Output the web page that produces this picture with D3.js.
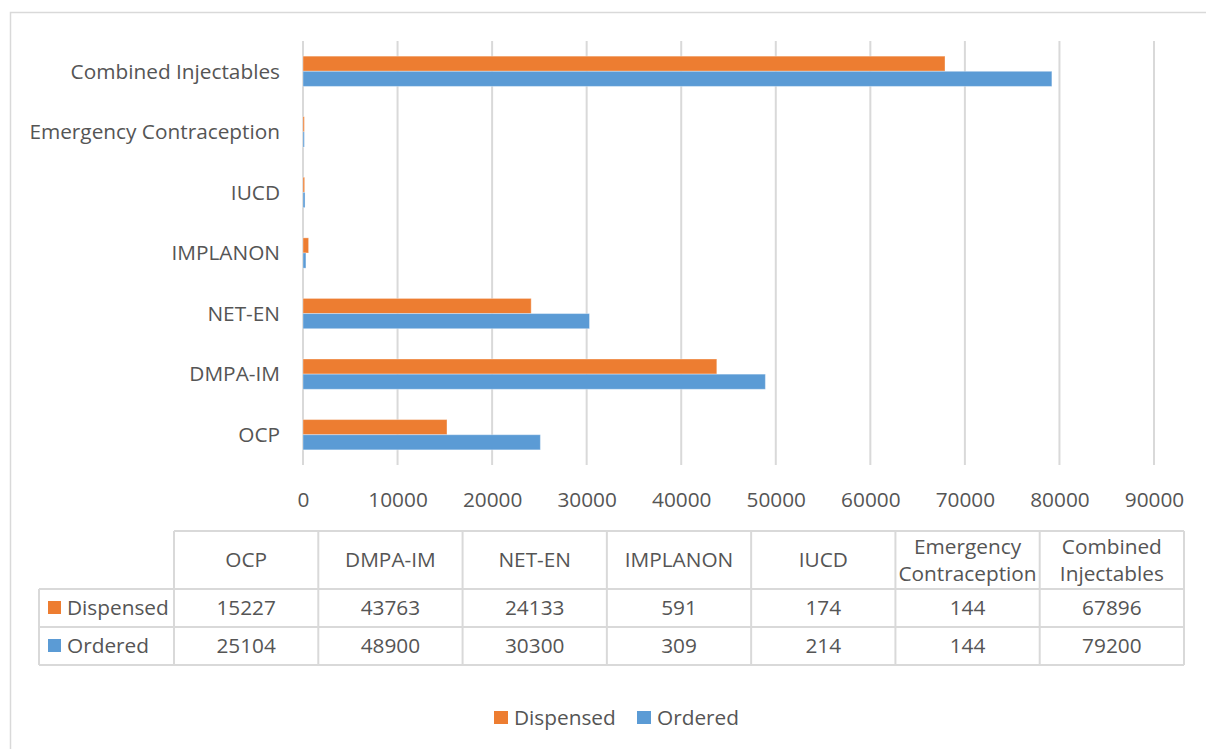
<!DOCTYPE html>
<html>
<head>
<meta charset="utf-8">
<script src="https://cdn.jsdelivr.net/npm/d3@7"></script>
<style>
  html, body { margin: 0; padding: 0; background: #fff; }
  svg { display: block; font-family: "Open Sans", "Noto Sans", sans-serif; }
  text { fill: #555555; }
</style>
</head>
<body>
<svg id="chart" width="1206" height="749"></svg>
<script>
// Contraceptive commodities: ordered vs dispensed
const categories = ["OCP", "DMPA-IM", "NET-EN", "IMPLANON", "IUCD", "Emergency Contraception", "Combined Injectables"];
const seriesNames = ["Dispensed", "Ordered"];
const dispensed = [15227, 43763, 24133, 591, 174, 144, 67896];
const ordered = [25104, 48900, 30300, 309, 214, 144, 79200];
const xTicks = [0, 10000, 20000, 30000, 40000, 50000, 60000, 70000, 80000, 90000];
const colors = ["#ED7D31", "#5B9BD5"];

const seriesValues = [dispensed, ordered];
const rows = categories.map((c, i) => ({
  category: c,
  values: seriesNames.map((s, j) => ({ series: s, value: seriesValues[j][i], color: colors[j] }))
}));

const svg = d3.select("#chart");
const grid = "#d9d9d9";
const fontSize = 20.8;

// outer chart frame
svg.append("rect")
  .attr("x", 10.5).attr("y", 12.5)
  .attr("width", 1230).attr("height", 780)
  .attr("fill", "none").attr("stroke", grid).attr("stroke-width", 1.5);

// scales
const x = d3.scaleLinear().domain([0, 90000]).range([303, 1154]);
const y = d3.scaleBand()
  .domain(categories.slice().reverse())
  .range([41, 465])
  .paddingInner(0.5)
  .paddingOuter(0.25);
const ySub = d3.scaleBand().domain(seriesNames).range([0, y.bandwidth()]);

// vertical gridlines
svg.append("g").selectAll("line")
  .data(xTicks)
  .join("line")
  .attr("x1", d => x(d)).attr("x2", d => x(d))
  .attr("y1", 41).attr("y2", 465)
  .attr("stroke", grid).attr("stroke-width", 2);

// x axis labels
const xAxis = d3.axisBottom(x).tickValues(xTicks).tickFormat(d3.format("d")).tickSize(0).tickPadding(0);
const gx = svg.append("g").attr("transform", "translate(0,490)").call(xAxis);
gx.select(".domain").remove();
gx.selectAll("text")
  .attr("y", 0).attr("dy", "0.8em")
  .style("font-family", "Open Sans, sans-serif")
  .style("font-size", fontSize + "px")
  .style("fill", "#555555");

// category labels
const yAxis = d3.axisLeft(y).tickSize(0).tickPadding(0);
const gy = svg.append("g").attr("transform", "translate(280,0)").call(yAxis);
gy.select(".domain").remove();
gy.selectAll("text")
  .attr("x", 0).attr("dy", "0.35em")
  .style("font-family", "Open Sans, sans-serif")
  .style("font-size", fontSize + "px")
  .style("fill", "#555555");

// bars
const groups = svg.append("g").selectAll("g")
  .data(rows)
  .join("g")
  .attr("transform", d => `translate(0,${y(d.category)})`);

groups.selectAll("rect")
  .data(d => d.values)
  .join("rect")
  .attr("x", x(0))
  .attr("y", d => ySub(d.series))
  .attr("width", d => x(d.value) - x(0))
  .attr("height", ySub.bandwidth())
  .attr("fill", d => d.color)
  .attr("stroke", "#ffffff")
  .attr("stroke-opacity", 0.35)
  .attr("stroke-width", 1);

// data table below the plot
const colX = d3.scaleBand().domain(categories).range([174, 1184]);
const tTop = 531, tHead = 589, tRow = 38;
const tableG = svg.append("g");
const tLine = (x1, y1, x2, y2) => tableG.append("line")
  .attr("x1", x1).attr("y1", y1).attr("x2", x2).attr("y2", y2)
  .attr("stroke", grid).attr("stroke-width", 2);

tLine(174, tTop, 1184, tTop);
tLine(39, tHead, 1184, tHead);
tLine(39, tHead + tRow, 1184, tHead + tRow);
tLine(39, tHead + 2 * tRow, 1184, tHead + 2 * tRow);
tLine(39, tHead, 39, tHead + 2 * tRow);
categories.forEach(c => tLine(colX(c), tTop, colX(c), tHead + 2 * tRow));
tLine(1184, tTop, 1184, tHead + 2 * tRow);

// header cells, wrapped to fit the column
const headCenter = (tTop + tHead) / 2;
categories.forEach(c => {
  const t = tableG.append("text")
    .attr("x", colX(c) + colX.bandwidth() / 2)
    .attr("text-anchor", "middle")
    .style("font-size", fontSize + "px");
  t.text(c);
  const w = t.node().getComputedTextLength();
  if (w > colX.bandwidth() - 6) {
    t.text(null);
    const words = c.split(" ");
    const lh = 27;
    words.forEach((wd, k) => {
      t.append("tspan")
        .attr("x", colX(c) + colX.bandwidth() / 2)
        .attr("y", headCenter - lh * (words.length - 1) / 2 + k * lh)
        .attr("dy", "0.35em")
        .text(wd);
    });
  } else {
    t.attr("y", headCenter).attr("dy", "0.35em");
  }
});

// series rows
seriesNames.forEach((s, j) => {
  const cy = tHead + tRow * j + tRow / 2;
  tableG.append("rect")
    .attr("x", 48).attr("y", cy - 7).attr("width", 13).attr("height", 13)
    .attr("fill", colors[j]);
  tableG.append("text")
    .attr("x", 67).attr("y", cy).attr("dy", "0.35em")
    .style("font-size", fontSize + "px")
    .text(s);
  categories.forEach((c, i) => {
    tableG.append("text")
      .attr("x", colX(c) + colX.bandwidth() / 2)
      .attr("y", cy).attr("dy", "0.35em")
      .attr("text-anchor", "middle")
      .style("font-size", fontSize + "px")
      .text(seriesValues[j][i]);
  });
});

// legend
const legend = svg.append("g");
const legendX = [494, 637];
seriesNames.forEach((s, j) => {
  legend.append("rect")
    .attr("x", legendX[j]).attr("y", 711).attr("width", 14).attr("height", 13)
    .attr("fill", colors[j]);
  legend.append("text")
    .attr("x", legendX[j] + 20).attr("y", 717.5).attr("dy", "0.35em")
    .style("font-size", fontSize + "px")
    .text(s);
});
</script>
</body>
</html>
